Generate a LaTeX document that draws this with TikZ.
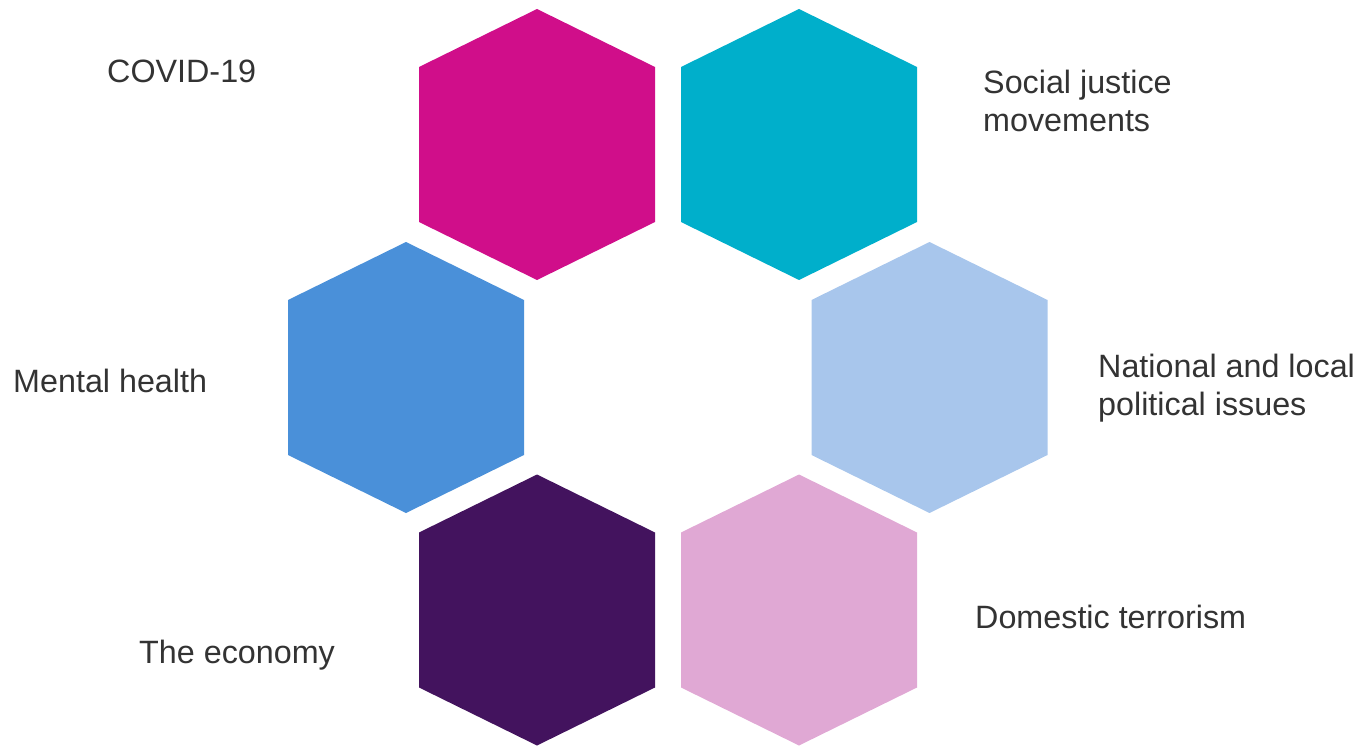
\documentclass[tikz,border=0pt]{standalone}
\usepackage{fontspec}
\setmainfont{Liberation Sans}
\definecolor{hexmagenta}{HTML}{D00E8A}
\definecolor{hexcyan}{HTML}{00AFCB}
\definecolor{hexblue}{HTML}{4A90D9}
\definecolor{hexlightblue}{HTML}{A8C6EC}
\definecolor{hexpurple}{HTML}{43135E}
\definecolor{hexpink}{HTML}{E0A8D4}
\definecolor{labelgray}{HTML}{333333}
\begin{document}
\begin{tikzpicture}[x=1pt,y=-1pt,
  label/.style={anchor=base west,inner sep=0pt,text=labelgray,align=left,
    font=\fontsize{32.3}{38}\selectfont}]
\useasboundingbox (0,0) rectangle (1362,746);
% hexagon cells: centre x, centre y, colour
\foreach \cx/\cy/\col in {537/144.5/hexmagenta, 799/144.5/hexcyan,
    406/377.5/hexblue, 929.5/377.5/hexlightblue,
    537/610/hexpurple, 799/610/hexpink}{
  \fill[\col] (\cx,\cy-135.5) -- (\cx+118,\cy-77.5) -- (\cx+118,\cy+77.5)
    -- (\cx,\cy+135.5) -- (\cx-118,\cy+77.5) -- (\cx-118,\cy-77.5) -- cycle;
}
% topic labels (two-line labels sit on the baseline of their last line)
\node[label] (covid) at (107,82.5) {COVID-19};
\node[label] (social) at (983,131.5) {Social justice\\movements};
\node[label] (mental) at (13,392.5) {Mental health};
\node[label] (national) at (1098,415.5) {National and local\\political issues};
\node[label] (economy) at (139,663) {The economy};
\node[label] (terror) at (975,628) {Domestic terrorism};
\end{tikzpicture}
\end{document}
